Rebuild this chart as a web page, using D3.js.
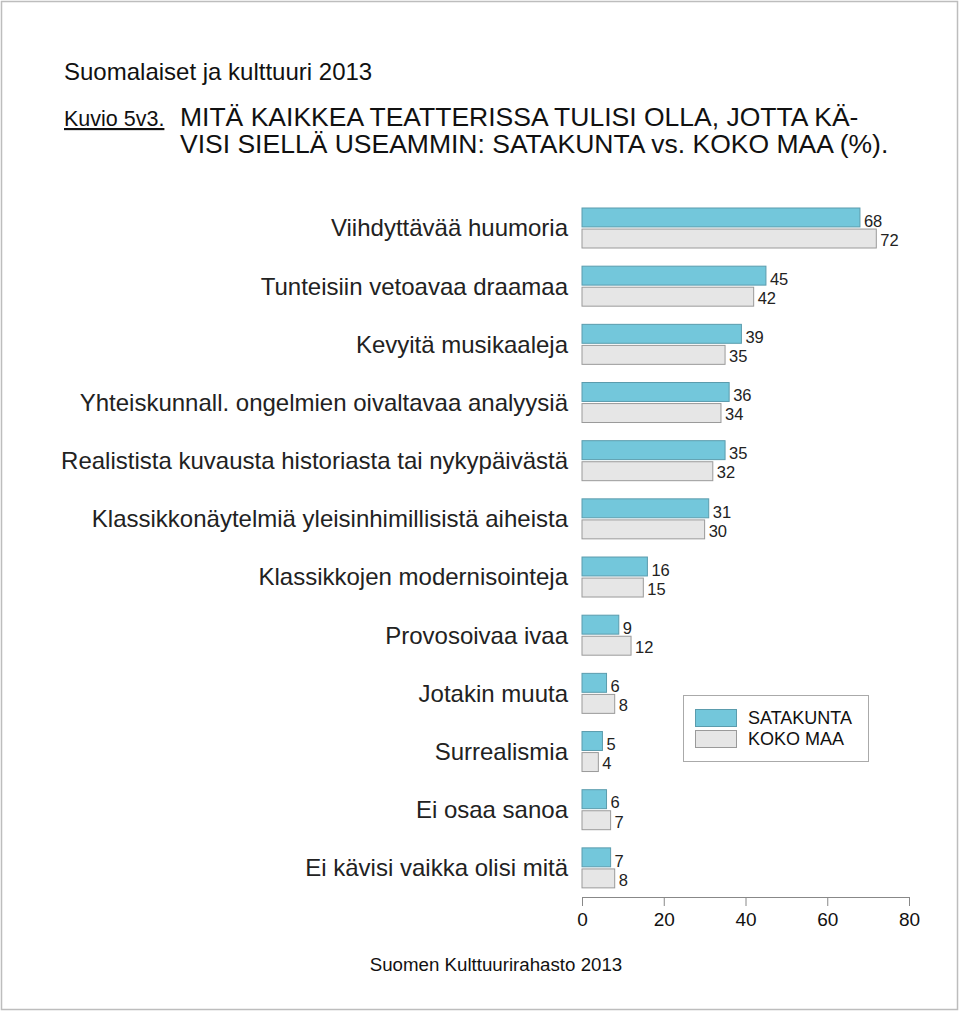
<!DOCTYPE html>
<html><head><meta charset="utf-8">
<script src="https://cdn.jsdelivr.net/npm/d3@7"></script>
<style>body{margin:0;background:#fff;}svg{display:block;font-family:"Liberation Sans",Arial,Helvetica,sans-serif;}</style>
</head><body>
<script>
const categories = [
 "Viihdyttävää huumoria",
 "Tunteisiin vetoavaa draamaa",
 "Kevyitä musikaaleja",
 "Yhteiskunnall. ongelmien oivaltavaa analyysiä",
 "Realistista kuvausta historiasta tai nykypäivästä",
 "Klassikkonäytelmiä yleisinhimillisistä aiheista",
 "Klassikkojen modernisointeja",
 "Provosoivaa ivaa",
 "Jotakin muuta",
 "Surrealismia",
 "Ei osaa sanoa",
 "Ei kävisi vaikka olisi mitä"
];
const satakunta = [68,45,39,36,35,31,16,9,6,5,6,7];
const kokoMaa = [72,42,35,34,32,30,15,12,8,4,7,8];
const seriesNames = ["SATAKUNTA","KOKO MAA"];
const xTicks = [0,20,40,60,80];

const W=960,H=1012;
const svg=d3.select("body").append("svg").attr("width",W).attr("height",H);
svg.append("rect").attr("x",1.5).attr("y",1.5).attr("width",W-4).attr("height",H-4)
  .attr("fill","#fff").attr("stroke","#bdbdbd").attr("stroke-width",1.5);

svg.append("text").attr("x",64).attr("y",80).attr("font-size",24).attr("fill","#111").text("Suomalaiset ja kulttuuri 2013");
svg.append("text").attr("x",64).attr("y",126).attr("font-size",21.5).attr("fill","#111").attr("text-decoration","underline").text("Kuvio 5v3.");
svg.append("text").attr("x",180).attr("y",126).attr("font-size",26.5).attr("fill","#111").text("MITÄ KAIKKEA TEATTERISSA TULISI OLLA, JOTTA KÄ-");
svg.append("text").attr("x",180).attr("y",153).attr("font-size",26.5).attr("fill","#111").text("VISI SIELLÄ USEAMMIN: SATAKUNTA vs. KOKO MAA (%).");

const x=d3.scaleLinear().domain([0,80]).range([582,909]);
const y=d3.scaleBand().domain(categories).range([199,199+58.17*12]).padding(0);
const ys=d3.scaleBand().domain(seriesNames).range([9,49]).paddingInner(0.1);
const fills=["#73c7db","#e6e6e6"], strokes=["#5b9cad","#9a9a9a"];
const data=[satakunta,kokoMaa];
const labOff=[3.5,1.5];

const g=svg.append("g");
categories.forEach((c,i)=>{
  g.append("text").attr("x",568).attr("y",y(c)+29).attr("text-anchor","end")
   .attr("font-size",24).attr("fill","#222").attr("dy","0.35em").text(c);
  seriesNames.forEach((s,j)=>{
    const v=data[j][i];
    g.append("rect").attr("x",x(0)).attr("y",y(c)+ys(s)).attr("width",x(v)-x(0)).attr("height",ys.bandwidth())
      .attr("fill",fills[j]).attr("stroke",strokes[j]).attr("stroke-width",1);
    g.append("text").attr("x",x(v)+4).attr("y",y(c)+ys(s)+ys.bandwidth()/2+labOff[j])
      .attr("font-size",16.5).attr("fill","#222").attr("dy","0.35em").text(v);
  });
});

const axis=d3.axisBottom(x).tickValues(xTicks).tickSize(9).tickSizeOuter(0);
const ax=svg.append("g").attr("transform","translate(0,897)").call(axis);
ax.select(".domain").attr("stroke","#888");
ax.selectAll(".tick line").attr("stroke","#888");
ax.selectAll(".tick text").attr("font-size",19).attr("fill","#111").attr("y",16).attr("font-family","Liberation Sans,Arial,sans-serif");

// legend
const lg=svg.append("g");
lg.append("rect").attr("x",683.5).attr("y",695.5).attr("width",185).attr("height",66).attr("fill","#fff").attr("stroke","#aaa");
seriesNames.forEach((s,j)=>{
  lg.append("rect").attr("x",695.5).attr("y",709.5+j*21).attr("width",41).attr("height",17)
    .attr("fill",fills[j]).attr("stroke",strokes[j]);
  lg.append("text").attr("x",748).attr("y",718+j*21).attr("dy","0.35em").attr("font-size",18).attr("fill","#111").text(s);
});

svg.append("text").attr("x",496).attr("y",971).attr("text-anchor","middle").attr("font-size",18.7).attr("fill","#111").text("Suomen Kulttuurirahasto 2013");
</script>
</body></html>
